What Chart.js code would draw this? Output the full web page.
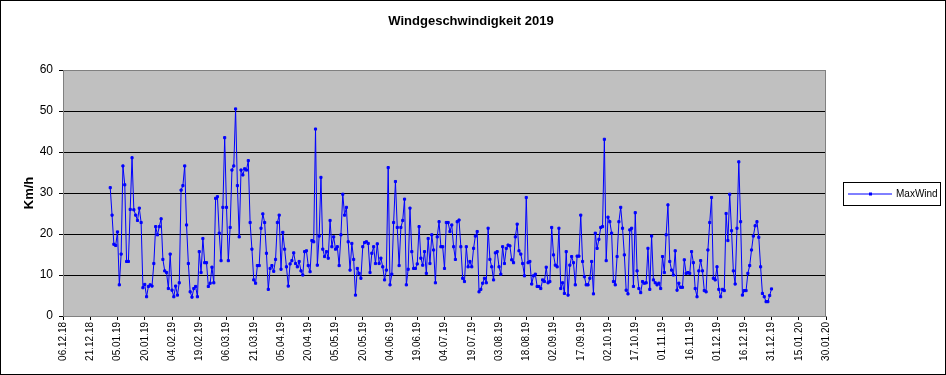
<!DOCTYPE html>
<html><head><meta charset="utf-8">
<script src="https://cdn.jsdelivr.net/npm/chart.js@4.4.1/dist/chart.umd.min.js"></script>
<style>html,body{margin:0;padding:0;background:#fff;}#wrap{width:946px;height:375px;position:relative;}</style>
</head><body><div id="wrap"><canvas id="c" width="946" height="375"></canvas></div>
<script>
const chartTitle = 'Windgeschwindigkeit 2019';
const seriesName = 'MaxWind';
const yAxisTitle = 'Km/h';
const axisStartDate = [2018, 11, 6];   // 06.12.18
const axisEndDays = 420;               // 30.01.20
const tickStepDays = 15;
const firstDataDate = [2019, 0, 1];    // 01.01.19
const yMin = 0, yMax = 60, yStep = 10;

const maxWind = [
  31.3, 24.6, 17.5, 17.2, 20.5, 7.6, 15.1, 36.6, 32.0, 13.3, 13.3, 26.0, 38.6, 25.9, 24.6, 23.3, 26.3, 22.8, 6.9, 7.7, 4.7, 7.2, 7.6, 7.3, 12.8, 21.8, 19.8, 21.8,
  23.7, 13.8, 11.0, 10.6, 6.7, 15.1, 6.3, 4.7, 7.3, 5.1, 8.1, 30.7, 31.8, 36.6, 22.2, 12.8, 5.9, 4.6, 6.7, 7.2, 4.7, 15.7, 10.6, 18.9, 13.0, 13.0, 7.2, 8.0, 11.9, 8.1, 28.7,
  29.1, 20.2, 13.5, 26.5, 43.5, 26.5, 13.5, 21.6, 35.6, 36.6, 50.5, 31.8, 19.3, 35.6, 34.4, 35.9, 35.6, 37.9, 22.8, 16.3, 8.8, 8.0, 12.3, 12.3, 21.4, 24.9, 22.8, 15.3, 6.5, 11.6, 12.3,
  10.9, 13.8, 22.8, 24.6, 11.4, 20.4, 16.3, 12.0, 7.3, 12.7, 13.5, 15.4, 12.8, 12.0, 13.3, 11.0, 10.0, 15.7, 15.9, 12.3, 10.8, 18.4, 18.1, 45.6, 12.4, 19.5, 33.8, 16.3, 14.5, 15.7, 14.1,
  23.3, 16.9, 19.3, 16.3, 16.9, 12.3, 19.8, 29.7, 24.6, 26.5, 18.1, 11.2, 17.7, 13.8, 5.1, 11.6, 10.4, 9.2, 16.9, 17.9, 18.1, 17.7, 10.6, 15.3, 16.9, 12.8, 17.6, 12.8, 14.1, 12.0, 8.8,
  11.2, 36.2, 7.6, 10.2, 22.8, 32.8, 21.6, 12.3, 21.6, 23.3, 28.5, 7.6, 11.4, 26.3, 15.7, 11.6, 11.6, 12.7, 21.8, 14.1, 12.4, 15.7, 10.4, 18.9, 12.8, 19.8, 16.1, 8.1, 19.3, 23.0,
  16.9, 16.9, 11.6, 22.8, 22.8, 20.6, 22.2, 16.9, 13.8, 23.0, 23.4, 16.9, 9.2, 8.4, 16.9, 12.0, 13.3, 12.0, 16.5, 19.5, 20.6, 5.9, 6.5, 8.0, 9.2, 8.1, 21.4, 13.8, 12.0, 8.8, 15.4,
  15.7, 12.0, 10.2, 16.9, 12.8, 16.5, 17.3, 17.1, 13.7, 13.0, 19.3, 22.4, 15.9, 15.1, 12.8, 9.8, 28.9, 13.0, 13.3, 7.8, 9.8, 10.2, 7.2, 7.2, 6.7, 8.8, 8.4, 11.9, 8.1, 8.4, 21.6,
  14.9, 12.4, 12.0, 21.4, 6.7, 8.1, 5.5, 15.7, 5.1, 12.4, 14.5, 13.0, 7.6, 14.6, 14.6, 24.6, 13.3, 9.6, 7.6, 7.6, 9.2, 13.3, 5.4, 20.2, 16.5, 18.7, 21.6, 21.8, 43.1, 13.5, 24.1,
  23.0, 20.2, 8.4, 7.6, 14.5, 23.0, 26.5, 21.4, 14.9, 6.3, 5.4, 21.0, 21.4, 7.2, 25.2, 11.0, 6.7, 5.7, 8.4, 8.0, 8.1, 16.5, 6.5, 19.5, 8.8, 8.1, 7.6, 8.0, 6.7, 14.5,
  10.6, 19.8, 27.1, 13.3, 11.2, 10.0, 15.9, 6.3, 8.0, 7.0, 7.0, 13.7, 10.4, 10.6, 10.4, 15.7, 13.0, 6.7, 4.7, 11.0, 13.5, 11.0, 6.2, 5.9, 16.1, 22.8, 28.9, 9.2, 8.8, 12.0, 6.5,
  4.7, 6.5, 6.2, 25.0, 18.4, 29.7, 20.8, 11.0, 7.8, 21.4, 37.6, 23.0, 5.1, 6.2, 6.2, 10.4, 12.3, 16.1, 19.5, 22.0, 23.0, 19.2, 12.0, 5.5, 4.7, 3.5, 3.5, 5.0, 6.6
];

const DAY = 86400000;
const t0 = Date.UTC(...axisStartDate);
const firstOffset = (Date.UTC(...firstDataDate) - t0) / DAY;
const dates = maxWind.map((_, i) => new Date(Date.UTC(...firstDataDate) + i * DAY));
const points = maxWind.map((v, i) => ({ x: firstOffset + i, y: v }));

function fmtDate(days) {
  const d = new Date(t0 + days * DAY);
  const dd = String(d.getUTCDate()).padStart(2, '0');
  const mm = String(d.getUTCMonth() + 1).padStart(2, '0');
  const yy = String(d.getUTCFullYear() % 100).padStart(2, '0');
  return dd + '.' + mm + '.' + yy;
}

const FONT = 'Arial, "Liberation Sans", sans-serif';

const decor = {
  id: 'decor',
  beforeDraw(chart) {
    const { ctx, chartArea: a } = chart;
    ctx.save();
    ctx.fillStyle = '#ffffff';
    ctx.fillRect(0, 0, chart.width, chart.height);
    ctx.fillStyle = '#c0c0c0';
    ctx.fillRect(a.left, a.top, a.right - a.left, a.bottom - a.top);
    ctx.restore();
  },
  afterDraw(chart) {
    const { ctx, chartArea: a } = chart;
    ctx.save();
    ctx.strokeStyle = '#808080';
    ctx.lineWidth = 1;
    ctx.strokeRect(Math.round(a.left) + 0.5, Math.round(a.top) + 0.5, Math.round(a.right - a.left) - 1, Math.round(a.bottom - a.top));
    ctx.strokeStyle = '#000';
    ctx.strokeRect(0.5, 0.5, chart.width - 1, chart.height - 1);
    ctx.fillStyle = '#000';
    ctx.font = 'bold 13px ' + FONT;
    ctx.textAlign = 'center';
    ctx.textBaseline = 'middle';
    ctx.fillText(chartTitle, 471, 21);
    const lx = 843, ly = 182, lw = 97, lh = 23;
    ctx.fillStyle = '#fff';
    ctx.fillRect(lx, ly, lw, lh);
    ctx.strokeStyle = '#000';
    ctx.strokeRect(lx + 0.5, ly + 0.5, lw, lh);
    const cy = ly + lh / 2 + 0.5;
    ctx.strokeStyle = '#0000ff';
    ctx.beginPath();
    ctx.moveTo(lx + 5, cy);
    ctx.lineTo(lx + 49, cy);
    ctx.stroke();
    ctx.fillStyle = '#0000ff';
    ctx.fillRect(lx + 26, cy - 1.5, 3, 3);
    ctx.fillStyle = '#000';
    ctx.font = '10px ' + FONT;
    ctx.textAlign = 'left';
    ctx.fillText(seriesName, lx + 53, cy);
    ctx.restore();
  }
};

new Chart(document.getElementById('c'), {
  type: 'line',
  data: {
    datasets: [{
      label: seriesName,
      data: points,
      borderColor: '#0000ff',
      borderWidth: 1,
      pointStyle: 'rect',
      pointRadius: 1.5,
      pointBorderWidth: 1,
      pointBackgroundColor: '#0000ff',
      pointBorderColor: '#0000ff',
      tension: 0,
      fill: false
    }]
  },
  options: {
    responsive: false,
    animation: false,
    devicePixelRatio: 1,
    layout: { padding: { left: 0, top: 70, right: 120, bottom: 0 } },
    plugins: { legend: { display: false }, title: { display: false }, tooltip: { enabled: false } },
    scales: {
      x: {
        type: 'linear', min: 0, max: axisEndDays,
        afterFit(s) { s.height = 59; },
        ticks: {
          stepSize: tickStepDays, autoSkip: false, minRotation: 90, maxRotation: 90,
          font: { family: FONT, size: 10 }, color: '#000', padding: 2,
          callback: v => fmtDate(v)
        },
        grid: { drawOnChartArea: false, drawTicks: true, tickLength: 4, color: '#000' },
        border: { display: true, color: '#808080' }
      },
      y: {
        min: yMin, max: yMax,
        afterFit(s) { s.width = 63; },
        ticks: { stepSize: yStep, font: { family: FONT, size: 12 }, color: '#000', padding: 6 },
        grid: { color: '#000', tickLength: 4 },
        border: { display: true, color: '#808080' },
        title: { display: true, text: yAxisTitle, color: '#000', font: { family: FONT, size: 13, weight: 'bold' }, padding: { top: 22, bottom: 0 } }
      }
    }
  },
  plugins: [decor]
});
</script>
</body></html>
